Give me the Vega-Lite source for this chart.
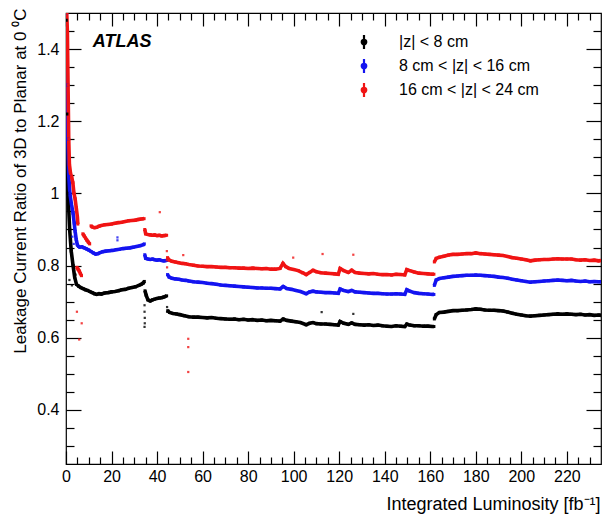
{
  "$schema": "https://vega.github.io/schema/vega-lite/v6.json",
  "width": 535,
  "height": 451,
  "autosize": {"type": "none"},
  "padding": {"left": 66, "top": 13, "right": 1, "bottom": 51},
  "background": "white",
  "config": {
    "font": "Liberation Sans",
    "view": {"stroke": "#000000", "strokeWidth": 1.2},
    "axis": {
      "grid": false,
      "domain": false,
      "tickColor": "#000000",
      "tickWidth": 1.2,
      "labelColor": "#000000",
      "labelFont": "Liberation Sans",
      "labelFontSize": 16,
      "titleColor": "#000000",
      "titleFont": "Liberation Sans",
      "titleFontSize": 17,
      "titleFontWeight": "normal"
    }
  },
  "datasets": {
    "curves": [
      {"s": "a", "g": 1, "x": 0.1, "y": 1.48}, {"s": "a", "g": 1, "x": 0.4, "y": 1.22}, {"s": "a", "g": 1, "x": 0.9, "y": 1.0}, {"s": "a", "g": 1, "x": 1.6, "y": 0.9},
      {"s": "a", "g": 1, "x": 2.3, "y": 0.84}, {"s": "a", "g": 1, "x": 3.1, "y": 0.8}, {"s": "a", "g": 1, "x": 3.8, "y": 0.768}, {"s": "a", "g": 1, "x": 4.6, "y": 0.748},
      {"s": "a", "g": 1, "x": 5.5, "y": 0.743}, {"s": "a", "g": 1, "x": 6.5, "y": 0.739}, {"s": "a", "g": 1, "x": 7.5, "y": 0.736}, {"s": "a", "g": 1, "x": 8.5, "y": 0.733},
      {"s": "a", "g": 1, "x": 9.5, "y": 0.731}, {"s": "a", "g": 1, "x": 10.5, "y": 0.728}, {"s": "a", "g": 1, "x": 11.5, "y": 0.725}, {"s": "a", "g": 1, "x": 12.5, "y": 0.722},
      {"s": "a", "g": 1, "x": 13.5, "y": 0.72}, {"s": "a", "g": 1, "x": 14.5, "y": 0.722}, {"s": "a", "g": 1, "x": 15.5, "y": 0.721}, {"s": "a", "g": 1, "x": 17, "y": 0.724},
      {"s": "a", "g": 1, "x": 18.5, "y": 0.725}, {"s": "a", "g": 1, "x": 20, "y": 0.727}, {"s": "a", "g": 1, "x": 21.5, "y": 0.728}, {"s": "a", "g": 1, "x": 23, "y": 0.73},
      {"s": "a", "g": 1, "x": 24.5, "y": 0.733}, {"s": "a", "g": 1, "x": 26, "y": 0.734}, {"s": "a", "g": 1, "x": 27.5, "y": 0.737}, {"s": "a", "g": 1, "x": 29, "y": 0.739},
      {"s": "a", "g": 1, "x": 30.5, "y": 0.741}, {"s": "a", "g": 1, "x": 32, "y": 0.745}, {"s": "a", "g": 1, "x": 33, "y": 0.748}, {"s": "a", "g": 1, "x": 34, "y": 0.752},
      {"s": "a", "g": 1, "x": 34.4, "y": 0.756},
      {"s": "a", "g": 2, "x": 34.7, "y": 0.73}, {"s": "a", "g": 2, "x": 35.2, "y": 0.718}, {"s": "a", "g": 2, "x": 36, "y": 0.705}, {"s": "a", "g": 2, "x": 37, "y": 0.702},
      {"s": "a", "g": 2, "x": 38, "y": 0.705}, {"s": "a", "g": 2, "x": 39, "y": 0.707}, {"s": "a", "g": 2, "x": 40, "y": 0.709}, {"s": "a", "g": 2, "x": 41, "y": 0.71},
      {"s": "a", "g": 2, "x": 42, "y": 0.711}, {"s": "a", "g": 2, "x": 43, "y": 0.713}, {"s": "a", "g": 2, "x": 44.2, "y": 0.716},
      {"s": "a", "g": 3, "x": 44.7, "y": 0.675}, {"s": "a", "g": 3, "x": 45.5, "y": 0.67}, {"s": "a", "g": 3, "x": 47, "y": 0.667}, {"s": "a", "g": 3, "x": 48.5, "y": 0.666},
      {"s": "a", "g": 3, "x": 50, "y": 0.664}, {"s": "a", "g": 3, "x": 52, "y": 0.661}, {"s": "a", "g": 3, "x": 54, "y": 0.658}, {"s": "a", "g": 3, "x": 56, "y": 0.657},
      {"s": "a", "g": 3, "x": 58, "y": 0.657}, {"s": "a", "g": 3, "x": 60, "y": 0.656}, {"s": "a", "g": 3, "x": 62, "y": 0.655}, {"s": "a", "g": 3, "x": 64, "y": 0.656},
      {"s": "a", "g": 3, "x": 66, "y": 0.654}, {"s": "a", "g": 3, "x": 68, "y": 0.653}, {"s": "a", "g": 3, "x": 70, "y": 0.652}, {"s": "a", "g": 3, "x": 72, "y": 0.651},
      {"s": "a", "g": 3, "x": 74, "y": 0.652}, {"s": "a", "g": 3, "x": 76, "y": 0.65}, {"s": "a", "g": 3, "x": 78, "y": 0.651}, {"s": "a", "g": 3, "x": 80, "y": 0.649},
      {"s": "a", "g": 3, "x": 82, "y": 0.65}, {"s": "a", "g": 3, "x": 84, "y": 0.648}, {"s": "a", "g": 3, "x": 86, "y": 0.649}, {"s": "a", "g": 3, "x": 88, "y": 0.647},
      {"s": "a", "g": 3, "x": 90, "y": 0.648}, {"s": "a", "g": 3, "x": 92, "y": 0.647}, {"s": "a", "g": 3, "x": 94, "y": 0.646}, {"s": "a", "g": 3, "x": 95.4, "y": 0.652},
      {"s": "a", "g": 3, "x": 97, "y": 0.648}, {"s": "a", "g": 3, "x": 99, "y": 0.646}, {"s": "a", "g": 3, "x": 101, "y": 0.644}, {"s": "a", "g": 3, "x": 103, "y": 0.642},
      {"s": "a", "g": 3, "x": 105.5, "y": 0.636}, {"s": "a", "g": 3, "x": 107, "y": 0.64}, {"s": "a", "g": 3, "x": 108.5, "y": 0.642}, {"s": "a", "g": 3, "x": 110, "y": 0.639},
      {"s": "a", "g": 3, "x": 112, "y": 0.638}, {"s": "a", "g": 3, "x": 114, "y": 0.638}, {"s": "a", "g": 3, "x": 116, "y": 0.637}, {"s": "a", "g": 3, "x": 118, "y": 0.636},
      {"s": "a", "g": 3, "x": 119.6, "y": 0.635}, {"s": "a", "g": 3, "x": 120.4, "y": 0.645}, {"s": "a", "g": 3, "x": 122, "y": 0.64}, {"s": "a", "g": 3, "x": 124, "y": 0.637},
      {"s": "a", "g": 3, "x": 125.5, "y": 0.641}, {"s": "a", "g": 3, "x": 127, "y": 0.637}, {"s": "a", "g": 3, "x": 129, "y": 0.636}, {"s": "a", "g": 3, "x": 131, "y": 0.635},
      {"s": "a", "g": 3, "x": 133, "y": 0.636}, {"s": "a", "g": 3, "x": 135, "y": 0.634}, {"s": "a", "g": 3, "x": 137, "y": 0.635}, {"s": "a", "g": 3, "x": 139, "y": 0.633},
      {"s": "a", "g": 3, "x": 141, "y": 0.632}, {"s": "a", "g": 3, "x": 143, "y": 0.631}, {"s": "a", "g": 3, "x": 145, "y": 0.633}, {"s": "a", "g": 3, "x": 147, "y": 0.632},
      {"s": "a", "g": 3, "x": 148.8, "y": 0.631}, {"s": "a", "g": 3, "x": 149.7, "y": 0.638}, {"s": "a", "g": 3, "x": 151, "y": 0.635}, {"s": "a", "g": 3, "x": 153, "y": 0.633},
      {"s": "a", "g": 3, "x": 155, "y": 0.633}, {"s": "a", "g": 3, "x": 157, "y": 0.632}, {"s": "a", "g": 3, "x": 159, "y": 0.632}, {"s": "a", "g": 3, "x": 161, "y": 0.631},
      {"s": "a", "g": 3, "x": 161.6, "y": 0.631},
      {"s": "a", "g": 4, "x": 161.8, "y": 0.652}, {"s": "a", "g": 4, "x": 162.6, "y": 0.664}, {"s": "a", "g": 4, "x": 164, "y": 0.67}, {"s": "a", "g": 4, "x": 166, "y": 0.671},
      {"s": "a", "g": 4, "x": 168, "y": 0.673}, {"s": "a", "g": 4, "x": 170, "y": 0.675}, {"s": "a", "g": 4, "x": 172, "y": 0.675}, {"s": "a", "g": 4, "x": 174, "y": 0.676},
      {"s": "a", "g": 4, "x": 176, "y": 0.677}, {"s": "a", "g": 4, "x": 178, "y": 0.678}, {"s": "a", "g": 4, "x": 180, "y": 0.68}, {"s": "a", "g": 4, "x": 182, "y": 0.679},
      {"s": "a", "g": 4, "x": 184, "y": 0.677}, {"s": "a", "g": 4, "x": 186, "y": 0.676}, {"s": "a", "g": 4, "x": 188, "y": 0.676}, {"s": "a", "g": 4, "x": 190, "y": 0.675},
      {"s": "a", "g": 4, "x": 192, "y": 0.674}, {"s": "a", "g": 4, "x": 194, "y": 0.671}, {"s": "a", "g": 4, "x": 196, "y": 0.668}, {"s": "a", "g": 4, "x": 198, "y": 0.665},
      {"s": "a", "g": 4, "x": 200, "y": 0.663}, {"s": "a", "g": 4, "x": 202, "y": 0.661}, {"s": "a", "g": 4, "x": 204, "y": 0.66}, {"s": "a", "g": 4, "x": 206, "y": 0.661},
      {"s": "a", "g": 4, "x": 208, "y": 0.662}, {"s": "a", "g": 4, "x": 210, "y": 0.663}, {"s": "a", "g": 4, "x": 212, "y": 0.664}, {"s": "a", "g": 4, "x": 214, "y": 0.665},
      {"s": "a", "g": 4, "x": 216, "y": 0.666}, {"s": "a", "g": 4, "x": 218, "y": 0.665}, {"s": "a", "g": 4, "x": 220, "y": 0.666}, {"s": "a", "g": 4, "x": 222, "y": 0.665},
      {"s": "a", "g": 4, "x": 224, "y": 0.664}, {"s": "a", "g": 4, "x": 226, "y": 0.665}, {"s": "a", "g": 4, "x": 228, "y": 0.663}, {"s": "a", "g": 4, "x": 230, "y": 0.664},
      {"s": "a", "g": 4, "x": 232, "y": 0.662}, {"s": "a", "g": 4, "x": 234, "y": 0.663}, {"s": "a", "g": 4, "x": 235, "y": 0.662},

      {"s": "b", "g": 1, "x": 0.1, "y": 1.5}, {"s": "b", "g": 1, "x": 0.4, "y": 1.3}, {"s": "b", "g": 1, "x": 0.8, "y": 1.15}, {"s": "b", "g": 1, "x": 1.2, "y": 1.05},
      {"s": "b", "g": 1, "x": 1.7, "y": 1.0}, {"s": "b", "g": 1, "x": 2.4, "y": 0.97}, {"s": "b", "g": 1, "x": 3.1, "y": 0.945}, {"s": "b", "g": 1, "x": 3.6, "y": 0.918},
      {"s": "b", "g": 1, "x": 4.0, "y": 0.895}, {"s": "b", "g": 1, "x": 4.5, "y": 0.872}, {"s": "b", "g": 1, "x": 5, "y": 0.857}, {"s": "b", "g": 1, "x": 5.5, "y": 0.853},
      {"s": "b", "g": 1, "x": 6, "y": 0.851}, {"s": "b", "g": 1, "x": 7, "y": 0.852}, {"s": "b", "g": 1, "x": 8, "y": 0.849}, {"s": "b", "g": 1, "x": 9, "y": 0.846},
      {"s": "b", "g": 1, "x": 10, "y": 0.843}, {"s": "b", "g": 1, "x": 11, "y": 0.839}, {"s": "b", "g": 1, "x": 12, "y": 0.835}, {"s": "b", "g": 1, "x": 13, "y": 0.832},
      {"s": "b", "g": 1, "x": 14, "y": 0.833}, {"s": "b", "g": 1, "x": 15, "y": 0.836}, {"s": "b", "g": 1, "x": 16, "y": 0.838}, {"s": "b", "g": 1, "x": 17.5, "y": 0.84},
      {"s": "b", "g": 1, "x": 19, "y": 0.841}, {"s": "b", "g": 1, "x": 20.5, "y": 0.842}, {"s": "b", "g": 1, "x": 22, "y": 0.844}, {"s": "b", "g": 1, "x": 23.5, "y": 0.845},
      {"s": "b", "g": 1, "x": 25, "y": 0.847}, {"s": "b", "g": 1, "x": 26.5, "y": 0.848}, {"s": "b", "g": 1, "x": 28, "y": 0.849}, {"s": "b", "g": 1, "x": 29.5, "y": 0.851},
      {"s": "b", "g": 1, "x": 31, "y": 0.853}, {"s": "b", "g": 1, "x": 32.5, "y": 0.855}, {"s": "b", "g": 1, "x": 34, "y": 0.858}, {"s": "b", "g": 1, "x": 34.4, "y": 0.86},
      {"s": "b", "g": 2, "x": 34.6, "y": 0.83}, {"s": "b", "g": 2, "x": 35, "y": 0.82}, {"s": "b", "g": 2, "x": 36, "y": 0.818}, {"s": "b", "g": 2, "x": 37, "y": 0.817},
      {"s": "b", "g": 2, "x": 38, "y": 0.818}, {"s": "b", "g": 2, "x": 39, "y": 0.816}, {"s": "b", "g": 2, "x": 40, "y": 0.815}, {"s": "b", "g": 2, "x": 41, "y": 0.816},
      {"s": "b", "g": 2, "x": 42, "y": 0.814}, {"s": "b", "g": 2, "x": 43, "y": 0.813}, {"s": "b", "g": 2, "x": 44.2, "y": 0.814},
      {"s": "b", "g": 3, "x": 44.6, "y": 0.775}, {"s": "b", "g": 3, "x": 45.3, "y": 0.768}, {"s": "b", "g": 3, "x": 46.5, "y": 0.765}, {"s": "b", "g": 3, "x": 48, "y": 0.763},
      {"s": "b", "g": 3, "x": 49.5, "y": 0.762}, {"s": "b", "g": 3, "x": 51, "y": 0.76}, {"s": "b", "g": 3, "x": 52.5, "y": 0.759}, {"s": "b", "g": 3, "x": 54, "y": 0.757},
      {"s": "b", "g": 3, "x": 56, "y": 0.755}, {"s": "b", "g": 3, "x": 58, "y": 0.754}, {"s": "b", "g": 3, "x": 60, "y": 0.753}, {"s": "b", "g": 3, "x": 62, "y": 0.751},
      {"s": "b", "g": 3, "x": 64, "y": 0.75}, {"s": "b", "g": 3, "x": 66, "y": 0.748}, {"s": "b", "g": 3, "x": 68, "y": 0.746}, {"s": "b", "g": 3, "x": 70, "y": 0.745},
      {"s": "b", "g": 3, "x": 72, "y": 0.744}, {"s": "b", "g": 3, "x": 74, "y": 0.743}, {"s": "b", "g": 3, "x": 76, "y": 0.742}, {"s": "b", "g": 3, "x": 78, "y": 0.741},
      {"s": "b", "g": 3, "x": 80, "y": 0.74}, {"s": "b", "g": 3, "x": 82, "y": 0.739}, {"s": "b", "g": 3, "x": 84, "y": 0.738}, {"s": "b", "g": 3, "x": 86, "y": 0.738},
      {"s": "b", "g": 3, "x": 88, "y": 0.737}, {"s": "b", "g": 3, "x": 90, "y": 0.737}, {"s": "b", "g": 3, "x": 92, "y": 0.736}, {"s": "b", "g": 3, "x": 94, "y": 0.735},
      {"s": "b", "g": 3, "x": 95.4, "y": 0.742}, {"s": "b", "g": 3, "x": 97, "y": 0.736}, {"s": "b", "g": 3, "x": 99, "y": 0.734}, {"s": "b", "g": 3, "x": 101, "y": 0.731},
      {"s": "b", "g": 3, "x": 103, "y": 0.728}, {"s": "b", "g": 3, "x": 105.5, "y": 0.722}, {"s": "b", "g": 3, "x": 107, "y": 0.727}, {"s": "b", "g": 3, "x": 108.5, "y": 0.729},
      {"s": "b", "g": 3, "x": 110, "y": 0.727}, {"s": "b", "g": 3, "x": 112, "y": 0.726}, {"s": "b", "g": 3, "x": 114, "y": 0.725}, {"s": "b", "g": 3, "x": 116, "y": 0.725},
      {"s": "b", "g": 3, "x": 118, "y": 0.724}, {"s": "b", "g": 3, "x": 119.6, "y": 0.723}, {"s": "b", "g": 3, "x": 120.4, "y": 0.735}, {"s": "b", "g": 3, "x": 122, "y": 0.731},
      {"s": "b", "g": 3, "x": 124, "y": 0.728}, {"s": "b", "g": 3, "x": 125.5, "y": 0.731}, {"s": "b", "g": 3, "x": 127, "y": 0.727}, {"s": "b", "g": 3, "x": 129, "y": 0.726},
      {"s": "b", "g": 3, "x": 131, "y": 0.725}, {"s": "b", "g": 3, "x": 133, "y": 0.724}, {"s": "b", "g": 3, "x": 135, "y": 0.723}, {"s": "b", "g": 3, "x": 137, "y": 0.723},
      {"s": "b", "g": 3, "x": 139, "y": 0.722}, {"s": "b", "g": 3, "x": 141, "y": 0.721}, {"s": "b", "g": 3, "x": 143, "y": 0.721}, {"s": "b", "g": 3, "x": 145, "y": 0.722},
      {"s": "b", "g": 3, "x": 147, "y": 0.721}, {"s": "b", "g": 3, "x": 148.8, "y": 0.72}, {"s": "b", "g": 3, "x": 149.7, "y": 0.733}, {"s": "b", "g": 3, "x": 151, "y": 0.729},
      {"s": "b", "g": 3, "x": 153, "y": 0.725}, {"s": "b", "g": 3, "x": 155, "y": 0.723}, {"s": "b", "g": 3, "x": 157, "y": 0.722}, {"s": "b", "g": 3, "x": 159, "y": 0.721},
      {"s": "b", "g": 3, "x": 161, "y": 0.72}, {"s": "b", "g": 3, "x": 161.6, "y": 0.72},
      {"s": "b", "g": 4, "x": 161.8, "y": 0.745}, {"s": "b", "g": 4, "x": 162.6, "y": 0.76}, {"s": "b", "g": 4, "x": 164, "y": 0.764}, {"s": "b", "g": 4, "x": 166, "y": 0.766},
      {"s": "b", "g": 4, "x": 168, "y": 0.768}, {"s": "b", "g": 4, "x": 170, "y": 0.77}, {"s": "b", "g": 4, "x": 172, "y": 0.771}, {"s": "b", "g": 4, "x": 174, "y": 0.772},
      {"s": "b", "g": 4, "x": 176, "y": 0.773}, {"s": "b", "g": 4, "x": 178, "y": 0.773}, {"s": "b", "g": 4, "x": 180, "y": 0.774}, {"s": "b", "g": 4, "x": 182, "y": 0.773},
      {"s": "b", "g": 4, "x": 184, "y": 0.772}, {"s": "b", "g": 4, "x": 186, "y": 0.771}, {"s": "b", "g": 4, "x": 188, "y": 0.77}, {"s": "b", "g": 4, "x": 190, "y": 0.768},
      {"s": "b", "g": 4, "x": 192, "y": 0.767}, {"s": "b", "g": 4, "x": 194, "y": 0.765}, {"s": "b", "g": 4, "x": 196, "y": 0.762}, {"s": "b", "g": 4, "x": 198, "y": 0.76},
      {"s": "b", "g": 4, "x": 200, "y": 0.758}, {"s": "b", "g": 4, "x": 202, "y": 0.756}, {"s": "b", "g": 4, "x": 204, "y": 0.754}, {"s": "b", "g": 4, "x": 206, "y": 0.755},
      {"s": "b", "g": 4, "x": 208, "y": 0.756}, {"s": "b", "g": 4, "x": 210, "y": 0.757}, {"s": "b", "g": 4, "x": 212, "y": 0.758}, {"s": "b", "g": 4, "x": 214, "y": 0.759},
      {"s": "b", "g": 4, "x": 216, "y": 0.76}, {"s": "b", "g": 4, "x": 218, "y": 0.759}, {"s": "b", "g": 4, "x": 220, "y": 0.758}, {"s": "b", "g": 4, "x": 222, "y": 0.759},
      {"s": "b", "g": 4, "x": 224, "y": 0.757}, {"s": "b", "g": 4, "x": 226, "y": 0.756}, {"s": "b", "g": 4, "x": 228, "y": 0.757}, {"s": "b", "g": 4, "x": 230, "y": 0.755},
      {"s": "b", "g": 4, "x": 232, "y": 0.756}, {"s": "b", "g": 4, "x": 234, "y": 0.755}, {"s": "b", "g": 4, "x": 235, "y": 0.755},

      {"s": "c", "g": 1, "x": 0.3, "y": 1.5}, {"s": "c", "g": 1, "x": 0.6, "y": 1.45}, {"s": "c", "g": 1, "x": 0.9, "y": 1.3}, {"s": "c", "g": 1, "x": 1.2, "y": 1.15},
      {"s": "c", "g": 1, "x": 1.5, "y": 1.08}, {"s": "c", "g": 1, "x": 2.0, "y": 1.055}, {"s": "c", "g": 1, "x": 2.5, "y": 1.045}, {"s": "c", "g": 1, "x": 3.0, "y": 1.03},
      {"s": "c", "g": 1, "x": 3.5, "y": 1.0}, {"s": "c", "g": 1, "x": 4.0, "y": 0.985}, {"s": "c", "g": 1, "x": 4.5, "y": 0.96}, {"s": "c", "g": 1, "x": 5.0, "y": 0.935},
      {"s": "c", "g": 1, "x": 5.2, "y": 0.915},
      {"s": "c", "g": 2, "x": 4.8, "y": 0.795}, {"s": "c", "g": 2, "x": 5.3, "y": 0.79}, {"s": "c", "g": 2, "x": 5.8, "y": 0.785}, {"s": "c", "g": 2, "x": 6.3, "y": 0.778},
      {"s": "c", "g": 2, "x": 6.8, "y": 0.772},
      {"s": "c", "g": 3, "x": 7.4, "y": 0.888}, {"s": "c", "g": 3, "x": 8, "y": 0.882}, {"s": "c", "g": 3, "x": 8.6, "y": 0.876}, {"s": "c", "g": 3, "x": 9.2, "y": 0.87},
      {"s": "c", "g": 3, "x": 9.8, "y": 0.865}, {"s": "c", "g": 3, "x": 10.4, "y": 0.86},
      {"s": "c", "g": 4, "x": 11, "y": 0.91}, {"s": "c", "g": 4, "x": 11.5, "y": 0.907}, {"s": "c", "g": 4, "x": 12.5, "y": 0.905}, {"s": "c", "g": 4, "x": 13.5, "y": 0.906},
      {"s": "c", "g": 4, "x": 14.5, "y": 0.909}, {"s": "c", "g": 4, "x": 15.5, "y": 0.911}, {"s": "c", "g": 4, "x": 17, "y": 0.913}, {"s": "c", "g": 4, "x": 18.5, "y": 0.914},
      {"s": "c", "g": 4, "x": 20, "y": 0.915}, {"s": "c", "g": 4, "x": 21.5, "y": 0.917}, {"s": "c", "g": 4, "x": 23, "y": 0.919}, {"s": "c", "g": 4, "x": 24.5, "y": 0.92},
      {"s": "c", "g": 4, "x": 26, "y": 0.922}, {"s": "c", "g": 4, "x": 27.5, "y": 0.924}, {"s": "c", "g": 4, "x": 29, "y": 0.925}, {"s": "c", "g": 4, "x": 30.5, "y": 0.926},
      {"s": "c", "g": 4, "x": 32, "y": 0.928}, {"s": "c", "g": 4, "x": 33, "y": 0.929}, {"s": "c", "g": 4, "x": 34.3, "y": 0.93},
      {"s": "c", "g": 5, "x": 34.6, "y": 0.9}, {"s": "c", "g": 5, "x": 35, "y": 0.888}, {"s": "c", "g": 5, "x": 36, "y": 0.886}, {"s": "c", "g": 5, "x": 37, "y": 0.885},
      {"s": "c", "g": 5, "x": 38, "y": 0.884}, {"s": "c", "g": 5, "x": 39, "y": 0.885}, {"s": "c", "g": 5, "x": 40, "y": 0.883}, {"s": "c", "g": 5, "x": 41, "y": 0.884},
      {"s": "c", "g": 5, "x": 42, "y": 0.882}, {"s": "c", "g": 5, "x": 43, "y": 0.883}, {"s": "c", "g": 5, "x": 44.2, "y": 0.884},
      {"s": "c", "g": 6, "x": 44.6, "y": 0.822}, {"s": "c", "g": 6, "x": 45.3, "y": 0.815}, {"s": "c", "g": 6, "x": 46.5, "y": 0.812}, {"s": "c", "g": 6, "x": 48, "y": 0.81},
      {"s": "c", "g": 6, "x": 49.5, "y": 0.808}, {"s": "c", "g": 6, "x": 51, "y": 0.806}, {"s": "c", "g": 6, "x": 52.5, "y": 0.805}, {"s": "c", "g": 6, "x": 54, "y": 0.803},
      {"s": "c", "g": 6, "x": 56, "y": 0.801}, {"s": "c", "g": 6, "x": 58, "y": 0.799}, {"s": "c", "g": 6, "x": 60, "y": 0.798}, {"s": "c", "g": 6, "x": 62, "y": 0.797},
      {"s": "c", "g": 6, "x": 64, "y": 0.797}, {"s": "c", "g": 6, "x": 66, "y": 0.796}, {"s": "c", "g": 6, "x": 68, "y": 0.795}, {"s": "c", "g": 6, "x": 70, "y": 0.795},
      {"s": "c", "g": 6, "x": 72, "y": 0.794}, {"s": "c", "g": 6, "x": 74, "y": 0.794}, {"s": "c", "g": 6, "x": 76, "y": 0.793}, {"s": "c", "g": 6, "x": 78, "y": 0.793},
      {"s": "c", "g": 6, "x": 80, "y": 0.792}, {"s": "c", "g": 6, "x": 82, "y": 0.793}, {"s": "c", "g": 6, "x": 84, "y": 0.792}, {"s": "c", "g": 6, "x": 86, "y": 0.791},
      {"s": "c", "g": 6, "x": 88, "y": 0.792}, {"s": "c", "g": 6, "x": 90, "y": 0.79}, {"s": "c", "g": 6, "x": 92, "y": 0.79}, {"s": "c", "g": 6, "x": 94, "y": 0.792},
      {"s": "c", "g": 6, "x": 95.3, "y": 0.806}, {"s": "c", "g": 6, "x": 96.5, "y": 0.797}, {"s": "c", "g": 6, "x": 98, "y": 0.792}, {"s": "c", "g": 6, "x": 100, "y": 0.789},
      {"s": "c", "g": 6, "x": 102, "y": 0.786}, {"s": "c", "g": 6, "x": 104, "y": 0.78}, {"s": "c", "g": 6, "x": 105.5, "y": 0.775}, {"s": "c", "g": 6, "x": 107, "y": 0.781},
      {"s": "c", "g": 6, "x": 108.5, "y": 0.787}, {"s": "c", "g": 6, "x": 110, "y": 0.783}, {"s": "c", "g": 6, "x": 112, "y": 0.78}, {"s": "c", "g": 6, "x": 114, "y": 0.779},
      {"s": "c", "g": 6, "x": 116, "y": 0.778}, {"s": "c", "g": 6, "x": 118, "y": 0.777}, {"s": "c", "g": 6, "x": 119.6, "y": 0.776}, {"s": "c", "g": 6, "x": 120.4, "y": 0.792},
      {"s": "c", "g": 6, "x": 122, "y": 0.786}, {"s": "c", "g": 6, "x": 124, "y": 0.781}, {"s": "c", "g": 6, "x": 125.5, "y": 0.787}, {"s": "c", "g": 6, "x": 127, "y": 0.781},
      {"s": "c", "g": 6, "x": 129, "y": 0.779}, {"s": "c", "g": 6, "x": 131, "y": 0.778}, {"s": "c", "g": 6, "x": 133, "y": 0.777}, {"s": "c", "g": 6, "x": 135, "y": 0.778},
      {"s": "c", "g": 6, "x": 137, "y": 0.776}, {"s": "c", "g": 6, "x": 139, "y": 0.775}, {"s": "c", "g": 6, "x": 141, "y": 0.775}, {"s": "c", "g": 6, "x": 143, "y": 0.774},
      {"s": "c", "g": 6, "x": 145, "y": 0.776}, {"s": "c", "g": 6, "x": 147, "y": 0.775}, {"s": "c", "g": 6, "x": 148.8, "y": 0.774}, {"s": "c", "g": 6, "x": 149.7, "y": 0.789},
      {"s": "c", "g": 6, "x": 151, "y": 0.786}, {"s": "c", "g": 6, "x": 153, "y": 0.782}, {"s": "c", "g": 6, "x": 155, "y": 0.779}, {"s": "c", "g": 6, "x": 157, "y": 0.778},
      {"s": "c", "g": 6, "x": 159, "y": 0.777}, {"s": "c", "g": 6, "x": 161, "y": 0.776}, {"s": "c", "g": 6, "x": 161.6, "y": 0.776},
      {"s": "c", "g": 7, "x": 161.8, "y": 0.81}, {"s": "c", "g": 7, "x": 162.6, "y": 0.82}, {"s": "c", "g": 7, "x": 164, "y": 0.823}, {"s": "c", "g": 7, "x": 166, "y": 0.826},
      {"s": "c", "g": 7, "x": 168, "y": 0.829}, {"s": "c", "g": 7, "x": 170, "y": 0.831}, {"s": "c", "g": 7, "x": 172, "y": 0.831}, {"s": "c", "g": 7, "x": 174, "y": 0.832},
      {"s": "c", "g": 7, "x": 176, "y": 0.833}, {"s": "c", "g": 7, "x": 178, "y": 0.833}, {"s": "c", "g": 7, "x": 180, "y": 0.835}, {"s": "c", "g": 7, "x": 182, "y": 0.833},
      {"s": "c", "g": 7, "x": 184, "y": 0.832}, {"s": "c", "g": 7, "x": 186, "y": 0.831}, {"s": "c", "g": 7, "x": 188, "y": 0.83}, {"s": "c", "g": 7, "x": 190, "y": 0.829},
      {"s": "c", "g": 7, "x": 192, "y": 0.828}, {"s": "c", "g": 7, "x": 194, "y": 0.825}, {"s": "c", "g": 7, "x": 196, "y": 0.822}, {"s": "c", "g": 7, "x": 198, "y": 0.82},
      {"s": "c", "g": 7, "x": 200, "y": 0.818}, {"s": "c", "g": 7, "x": 202, "y": 0.816}, {"s": "c", "g": 7, "x": 204, "y": 0.813}, {"s": "c", "g": 7, "x": 206, "y": 0.815},
      {"s": "c", "g": 7, "x": 208, "y": 0.816}, {"s": "c", "g": 7, "x": 210, "y": 0.817}, {"s": "c", "g": 7, "x": 212, "y": 0.817}, {"s": "c", "g": 7, "x": 214, "y": 0.818},
      {"s": "c", "g": 7, "x": 216, "y": 0.819}, {"s": "c", "g": 7, "x": 218, "y": 0.818}, {"s": "c", "g": 7, "x": 220, "y": 0.818}, {"s": "c", "g": 7, "x": 222, "y": 0.818},
      {"s": "c", "g": 7, "x": 224, "y": 0.816}, {"s": "c", "g": 7, "x": 226, "y": 0.815}, {"s": "c", "g": 7, "x": 228, "y": 0.816}, {"s": "c", "g": 7, "x": 230, "y": 0.814},
      {"s": "c", "g": 7, "x": 232, "y": 0.815}, {"s": "c", "g": 7, "x": 234, "y": 0.813}, {"s": "c", "g": 7, "x": 235, "y": 0.814}
    ],
    "stray": [
      {"s": "c", "x": 4.8, "y": 0.672}, {"s": "c", "x": 5.8, "y": 0.595}, {"s": "c", "x": 6.9, "y": 0.64}, {"s": "c", "x": 41.2, "y": 0.948},
      {"s": "c", "x": 44.3, "y": 0.84}, {"s": "c", "x": 44.3, "y": 0.815}, {"s": "c", "x": 44.4, "y": 0.795}, {"s": "c", "x": 51.5, "y": 0.829},
      {"s": "c", "x": 53.7, "y": 0.597}, {"s": "c", "x": 53.7, "y": 0.574}, {"s": "c", "x": 53.7, "y": 0.505}, {"s": "c", "x": 99.8, "y": 0.822},
      {"s": "c", "x": 112.7, "y": 0.832}, {"s": "c", "x": 126.2, "y": 0.83},
      {"s": "b", "x": 22.6, "y": 0.878}, {"s": "b", "x": 22.6, "y": 0.87}, {"s": "b", "x": 3.4, "y": 0.86}, {"s": "b", "x": 2.8, "y": 0.88},
      {"s": "a", "x": 1.5, "y": 0.76}, {"s": "a", "x": 2.6, "y": 0.745}, {"s": "a", "x": 4.2, "y": 0.775}, {"s": "a", "x": 34.5, "y": 0.69},
      {"s": "a", "x": 34.5, "y": 0.672}, {"s": "a", "x": 34.6, "y": 0.655}, {"s": "a", "x": 34.6, "y": 0.64}, {"s": "a", "x": 34.5, "y": 0.63},
      {"s": "a", "x": 44.4, "y": 0.685}, {"s": "a", "x": 44.4, "y": 0.672}, {"s": "a", "x": 112.3, "y": 0.671}, {"s": "a", "x": 126.2, "y": 0.666}
    ],
    "label": [{"t": "ATLAS", "x": 11.8, "y": 1.42}]
  },
  "layer": [
    {
      "data": {"name": "curves"},
      "mark": {"type": "line", "strokeWidth": 3.6, "clip": true, "interpolate": "linear"},
      "encoding": {
        "x": {
          "field": "x", "type": "quantitative",
          "scale": {"domain": [0, 235], "nice": false, "zero": false},
          "axis": {
            "orient": "bottom", "values": [0, 20, 40, 60, 80, 100, 120, 140, 160, 180, 200, 220],
            "tickSize": -13, "labelPadding": 17, "labelFlush": false,
            "title": "Integrated Luminosity [fb⁻¹]", "titleFontSize": 18,
            "titleX": 534, "titleY": 45, "titleAlign": "right", "titleAnchor": "end", "titleBaseline": "alphabetic"
          }
        },
        "y": {
          "field": "y", "type": "quantitative",
          "scale": {"domain": [0.25, 1.5], "nice": false, "zero": false},
          "axis": {
            "orient": "left", "values": [0.4, 0.6, 0.8, 1, 1.2, 1.4],
            "labelExpr": "format(datum.value, '~g')",
            "tickSize": -15, "labelPadding": 22, "labelFlush": false,
            "title": "Leakage Current Ratio of 3D to Planar at 0 ⁰C",
            "titleX": -46, "titleY": -5, "titleAngle": 270, "titleAlign": "right", "titleAnchor": "end", "titleBaseline": "middle"
          }
        },
        "color": {
          "field": "s", "type": "nominal",
          "scale": {"domain": ["a", "b", "c"], "range": ["#000000", "#1414f0", "#f01414"]},
          "legend": {
            "orient": "none", "legendX": 290, "legendY": 21, "title": null,
            "symbolType": "M0,-1L0,1M-0.33,0A0.33,0.33,0,1,1,0.33,0A0.33,0.33,0,1,1,-0.33,0Z",
            "symbolSize": 190, "symbolStrokeWidth": 2.2, "symbolFillColor": "transparent",
            "labelFont": "Liberation Sans", "labelFontSize": 16, "labelColor": "#000000",
            "labelOffset": 27, "rowPadding": 0,
            "labelExpr": "datum.value == 'a' ? '|z| < 8 cm' : datum.value == 'b' ? '8 cm < |z| < 16 cm' : '16 cm < |z| < 24 cm'"
          }
        },
        "detail": {"field": "g", "type": "nominal"}
      }
    },
    {
      "data": {"name": "curves"},
      "mark": {"type": "square", "size": 9, "opacity": 1, "clip": true},
      "encoding": {
        "x": {
          "field": "x", "type": "quantitative",
          "axis": {
            "orient": "bottom", "values": [5, 10, 15, 25, 30, 35, 45, 50, 55, 65, 70, 75, 85, 90, 95, 105, 110, 115, 125, 130, 135, 145, 150, 155, 165, 170, 175, 185, 190, 195, 205, 210, 215, 225, 230],
            "tickSize": -7, "labels": false, "title": null
          }
        },
        "y": {
          "field": "y", "type": "quantitative",
          "axis": {
            "orient": "left", "values": [0.3, 0.35, 0.45, 0.5, 0.55, 0.65, 0.7, 0.75, 0.85, 0.9, 0.95, 1.05, 1.1, 1.15, 1.25, 1.3, 1.35, 1.45],
            "tickSize": -8, "labels": false, "title": null
          }
        },
        "color": {"field": "s", "type": "nominal", "legend": null}
      }
    },
    {
      "data": {"name": "stray"},
      "mark": {"type": "square", "size": 5, "opacity": 0.8, "clip": true},
      "encoding": {
        "x": {
          "field": "x", "type": "quantitative",
          "axis": {
            "orient": "top", "values": [0, 20, 40, 60, 80, 100, 120, 140, 160, 180, 200, 220],
            "tickSize": -13, "labels": false, "title": null
          }
        },
        "y": {
          "field": "y", "type": "quantitative",
          "axis": {
            "orient": "right", "values": [0.4, 0.6, 0.8, 1, 1.2, 1.4],
            "tickSize": -15, "labels": false, "title": null
          }
        },
        "color": {"field": "s", "type": "nominal", "legend": null}
      }
    },
    {
      "data": {"name": "label"},
      "mark": {"type": "text", "font": "Liberation Sans", "fontSize": 18, "fontWeight": "bold", "fontStyle": "italic", "align": "left", "baseline": "middle", "color": "#000000"},
      "encoding": {
        "x": {
          "field": "x", "type": "quantitative",
          "axis": {
            "orient": "top", "values": [5, 10, 15, 25, 30, 35, 45, 50, 55, 65, 70, 75, 85, 90, 95, 105, 110, 115, 125, 130, 135, 145, 150, 155, 165, 170, 175, 185, 190, 195, 205, 210, 215, 225, 230],
            "tickSize": -7, "labels": false, "title": null
          }
        },
        "y": {
          "field": "y", "type": "quantitative",
          "axis": {
            "orient": "right", "values": [0.3, 0.35, 0.45, 0.5, 0.55, 0.65, 0.7, 0.75, 0.85, 0.9, 0.95, 1.05, 1.1, 1.15, 1.25, 1.3, 1.35, 1.45],
            "tickSize": -8, "labels": false, "title": null
          }
        },
        "text": {"field": "t", "type": "nominal"}
      }
    }
  ],
  "resolve": {"axis": {"x": "independent", "y": "independent"}}
}
